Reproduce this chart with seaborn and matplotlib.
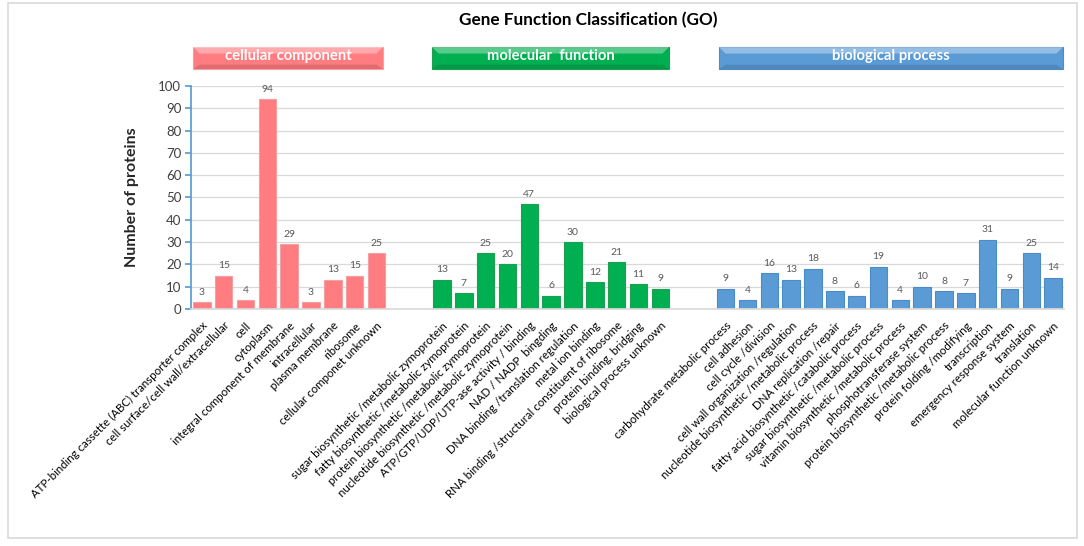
import pandas as pd
import seaborn as sns
import matplotlib.pyplot as plt
from matplotlib.patches import Rectangle, Polygon

# ---------------------------------------
# Data
# ---------------------------------------
cc_terms = ["ATP-binding cassette (ABC) transporter complex", "cell surface/cell wall/extracellular",
            "cell", "cytoplasm", "integral component of membrane", "intracellular",
            "plasma membrane", "ribosome", "cellular componet unknown"]
cc_counts = [3, 15, 4, 94, 29, 3, 13, 15, 25]

mf_terms = ["sugar biosynthetic /metabolic zymoprotein", "fatty biosynthetic /metabolic zymoprotein",
            "protein biosynthetic /metabolic zymoprotein", "nucleotide biosynthetic /metabolic zymoprotein",
            "ATP/GTP/UDP/UTP-ase activity / binding", "NAD / NADP  bingding",
            "DNA binding /translation regulation", "metal ion binding",
            "RNA binding /structural constituent of ribosome", "protein binding, bridging",
            "biological process unknown"]
mf_counts = [13, 7, 25, 20, 47, 6, 30, 12, 21, 11, 9]

bp_terms = ["carbohydrate metabolic process", "cell adhesion", "cell cycle /division",
            "cell wall organization /regulation", "nucleotide biosynthetic /metabolic process",
            "DNA replication /repair", "fatty acid biosynthetic /catabolic process",
            "sugar biosynthetic /metabolic process", "vitamin biosynthetic /metabolic process",
            "phosphotransferase system", "protein biosynthetic /metabolic process",
            "protein folding /modifying", "transcription", "emergency response system",
            "translation", "molecular function unknown"]
bp_counts = [9, 4, 16, 13, 18, 8, 6, 19, 4, 10, 8, 7, 31, 9, 25, 14]

groups = ["cellular component", "molecular  function", "biological process"]
colors = {"cellular component": "#FF7C80", "molecular  function": "#00B050",
          "biological process": "#5B9BD5"}
edges = {"cellular component": "#F4A0A3", "molecular  function": "#1E9E50",
         "biological process": "#4A8BC8"}

df = pd.concat([
    pd.DataFrame({"term": cc_terms, "count": cc_counts, "group": groups[0]}),
    pd.DataFrame({"term": mf_terms, "count": mf_counts, "group": groups[1]}),
    pd.DataFrame({"term": bp_terms, "count": bp_counts, "group": groups[2]}),
], ignore_index=True)

# two blank slots between groups
order = cc_terms + [" ", "  "] + mf_terms + ["   ", "    "] + bp_terms

# ---------------------------------------
# Figure
# ---------------------------------------
sns.set_theme(style="white")
plt.rcParams["font.family"] = ["Lato", "DejaVu Sans"]

fig = plt.figure(figsize=(10.84, 5.46), dpi=100)
ax = fig.add_axes([0.1762, 0.4341, 0.8054, 0.4084])

sns.barplot(data=df, x="term", y="count", hue="group", order=order,
            palette=colors, saturation=1, dodge=False, width=0.8, legend=False, ax=ax)

for cont, g in zip(ax.containers, groups):
    for bar in cont:
        bar.set_edgecolor(edges[g])
        bar.set_linewidth(0.8)
    ax.bar_label(cont, fmt="%g", fontsize=7.5, color="#595959", padding=4)

ax.set_ylim(0, 100)
ax.set_xlim(-0.5, len(order) - 0.5)
ax.set_yticks(range(0, 101, 10))
ax.yaxis.grid(True, color="#D9D9D9", linewidth=0.9)
ax.set_axisbelow(True)
for s in ["top", "right"]:
    ax.spines[s].set_visible(False)
ax.spines["left"].set_color("#5B9BD5")
ax.spines["bottom"].set_color("#D9D9D9")
ax.tick_params(axis="y", left=True, length=4, color="#5B9BD5", labelsize=9.5,
               labelcolor="#404040", pad=3)
ax.tick_params(axis="x", bottom=False, pad=2)
ax.set_xticks(range(len(order)))
ax.set_xticklabels([t.strip() for t in order], rotation=45, ha="right",
                   rotation_mode="anchor", fontsize=8.3, color="#000000")
ax.set_xlabel("")
ax.set_ylabel("Number of proteins", fontsize=11.5, fontweight="bold", labelpad=14)

# outer frame
fig.patches.append(Rectangle((8 / 1084, 1 - 538 / 546), 1069 / 1084, 535 / 546,
                             transform=fig.transFigure, fill=False,
                             edgecolor="#D9D9D9", linewidth=1.2))

fig.text(0.5424, 0.963, "Gene Function Classification (GO)", ha="center", va="center",
         fontsize=12.3, fontweight="bold", color="#000000")

# group header boxes
hdr = [(193, 383), (432, 669), (719, 1063)]
y0, y1 = 1 - 69 / 546, 1 - 47 / 546
for (xa, xb), g in zip(hdr, groups):
    x0, x1 = xa / 1084, xb / 1084
    fig.patches.append(Rectangle((x0, y0), x1 - x0, y1 - y0, transform=fig.transFigure,
                                 facecolor=colors[g], edgecolor=edges[g], linewidth=0.8))
    bev = 0.006
    fig.patches.append(Polygon([(x0, y1), (x1, y1), (x1 - bev, y1 - 0.012), (x0 + bev, y1 - 0.012)],
                               closed=True, transform=fig.transFigure,
                               facecolor="white", alpha=0.35, edgecolor="none"))
    fig.patches.append(Polygon([(x0, y0), (x1, y0), (x1 - bev, y0 + 0.008), (x0 + bev, y0 + 0.008)],
                               closed=True, transform=fig.transFigure,
                               facecolor="black", alpha=0.12, edgecolor="none"))
    fig.text((x0 + x1) / 2, (y0 + y1) / 2 + 0.004, g, ha="center", va="center",
             fontsize=10.7, fontweight="bold", color="white")

fig.savefig("out.png", dpi=100)
